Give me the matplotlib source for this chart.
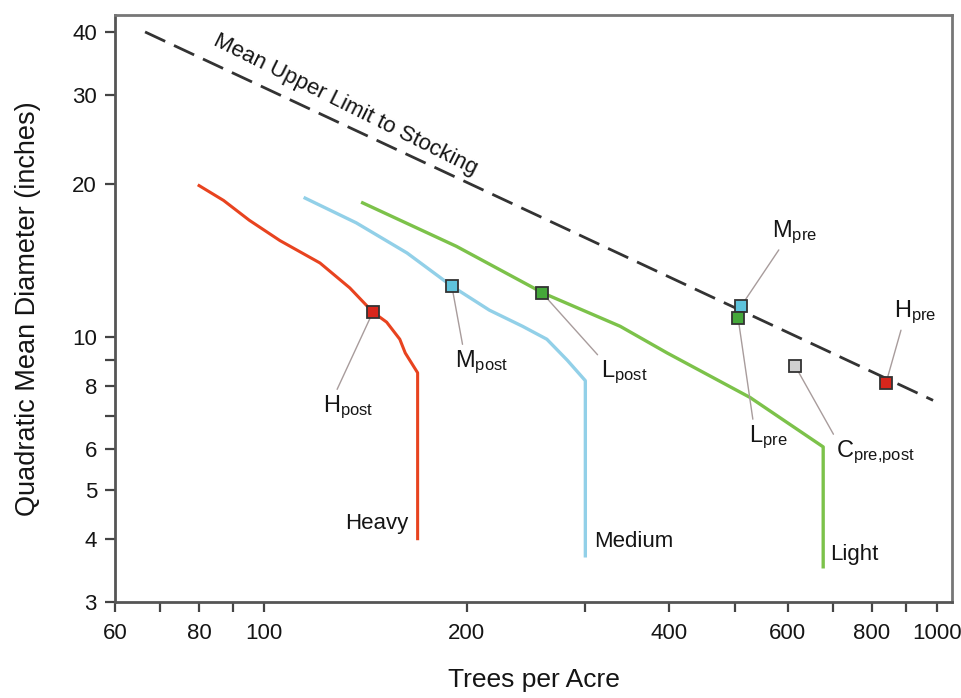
import matplotlib
matplotlib.use("Agg")
import matplotlib.pyplot as plt

plt.rcParams["font.family"] = ["Liberation Sans", "DejaVu Sans"]
plt.rcParams["mathtext.default"] = "regular"

# stocking guide data (trees per acre vs quadratic mean diameter)
heavy_tpa = [80, 87, 95, 105.5, 121, 134, 145, 152, 159, 162, 169, 169]
heavy_qmd = [19.9, 18.6, 17.0, 15.5, 14.0, 12.5, 11.2, 10.7, 9.9, 9.3, 8.5, 4.0]

medium_tpa = [115, 137, 163, 190, 216, 242, 263, 282, 300, 300]
medium_qmd = [18.8, 16.8, 14.65, 12.6, 11.3, 10.5, 9.9, 9.0, 8.2, 3.7]

light_tpa = [140, 193, 260, 338, 397, 527, 677, 677]
light_qmd = [18.4, 15.1, 12.2, 10.5, 9.3, 7.6, 6.07, 3.52]

limit_tpa = [66.5, 986]
limit_qmd = [40, 7.5]

point_names = ["H_post", "M_post", "L_post", "M_pre", "L_pre", "C_pre{,}post", "H_pre"]
point_tpa = [145, 190, 259, 511, 506, 615, 839]
point_qmd = [11.2, 12.6, 12.2, 11.5, 10.9, 8.77, 8.1]

x_ticks = [60, 70, 80, 90, 100, 200, 300, 400, 500, 600, 700, 800, 900, 1000]
x_labels = ["60", "", "80", "", "100", "200", "", "400", "", "600", "", "800", "", "1000"]
y_ticks = [3, 4, 5, 6, 7, 8, 9, 10, 20, 30, 40]
y_labels = ["3", "4", "5", "6", "", "8", "", "10", "20", "30", "40"]

RED = "#e8431f"
BLUE = "#92d0e8"
GREEN = "#7cc24a"
TXT = "#151515"
point_colors = ["#d8261c", "#5ec3dc", "#45a83a", "#5ec3dc", "#45a83a", "#cfcfcf", "#d8261c"]
# label offset (pixels) and leader attach point on the label box
label_style = {
    "H_post": ((-25, -95), (0.25, 1.0)),
    "M_post": ((30, -76), (0.15, 1.0)),
    "L_post": ((82, -79), (0.05, 0.9)),
    "M_pre": ((54, 74), (0.2, 0.0)),
    "L_pre": ((30, -119), (0.12, 1.0)),
    "C_pre{,}post": ((80, -86), (0.02, 0.9)),
    "H_pre": ((29, 71), (0.2, 0.0)),
}

fig = plt.figure(figsize=(9.61, 6.98), dpi=100)
ax = fig.add_axes([115 / 961, 96 / 698, 837 / 961, 587 / 698])
ax.set_xscale("log")
ax.set_yscale("log")
ax.set_xlim(60, 1052)
ax.set_ylim(3, 43.2)

ax.plot(limit_tpa, limit_qmd, color="#333333", lw=2.0, dashes=(8, 3.5))
ax.text(131.8, 28.7, "Mean Upper Limit to Stocking", rotation=-26.5,
        rotation_mode="anchor", ha="center", va="center", fontsize=16,
        color=TXT)

ax.plot(heavy_tpa, heavy_qmd, color=RED, lw=2.2, solid_joinstyle="round")
ax.plot(medium_tpa, medium_qmd, color=BLUE, lw=2.4, solid_joinstyle="round")
ax.plot(light_tpa, light_qmd, color=GREEN, lw=2.4, solid_joinstyle="round")

ax.annotate("Heavy", (heavy_tpa[-1], heavy_qmd[-1]), xytext=(-9, 15),
            textcoords="offset pixels", ha="right", va="center", fontsize=16,
            color=TXT)
ax.annotate("Medium", (medium_tpa[-1], medium_qmd[-1]), xytext=(9, 14),
            textcoords="offset pixels", ha="left", va="center", fontsize=16,
            color=TXT)
ax.annotate("Light", (light_tpa[-1], light_qmd[-1]), xytext=(7, 12),
            textcoords="offset pixels", ha="left", va="center", fontsize=16,
            color=TXT)

for name, x, y, c in zip(point_names, point_tpa, point_qmd, point_colors):
    (dx, dy), rel = label_style[name]
    base, sub = name.split("_")
    ax.annotate(base + "$_{" + sub + "}$", (x, y), xytext=(dx, dy),
                textcoords="offset pixels", ha="center", va="center",
                fontsize=17, color=TXT,
                arrowprops=dict(arrowstyle="-", color="#a89c9c", lw=1.0,
                                shrinkA=1, shrinkB=4, relpos=rel))
    ax.plot(x, y, marker="s", ms=9, mfc=c, mec="#333333", mew=1.3,
            linestyle="none", zorder=5)

ax.xaxis.set_minor_locator(matplotlib.ticker.NullLocator())
ax.yaxis.set_minor_locator(matplotlib.ticker.NullLocator())
ax.set_xticks(x_ticks)
ax.set_xticklabels(x_labels)
ax.set_yticks(y_ticks)
ax.set_yticklabels(y_labels)
ax.tick_params(axis="both", which="major", direction="out", length=7, width=1.6,
               color="#444444", labelsize=16, labelcolor=TXT)
ax.tick_params(axis="x", pad=8)
ax.tick_params(axis="y", pad=6)

for side, sp in ax.spines.items():
    sp.set_linewidth(2.0)
    sp.set_color("#555555" if side in ("left", "bottom") else "#777777")

ax.set_xlabel("Trees per Acre", fontsize=19, color=TXT)
ax.set_ylabel("Quadratic Mean Diameter (inches)", fontsize=19.5, color=TXT)
ax.xaxis.set_label_coords(0.5, -0.112)
ax.yaxis.set_label_coords(-0.088, 0.5)

fig.savefig("out.png", dpi=100)
